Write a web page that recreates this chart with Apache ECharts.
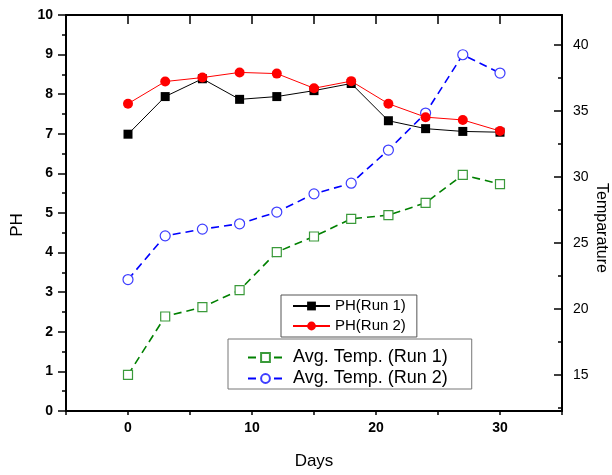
<!DOCTYPE html>
<html lang="en">
<head>
    <meta charset="utf-8">
    <title>PH and temperature</title>
    <script src="https://cdn.jsdelivr.net/npm/echarts@6/dist/echarts.min.js"></script>
</head>
<body style="margin:0; background:#fff;">
<div id="main" style="width: 612px; height: 475px;"></div>
<script type="text/javascript">
    // data
    const days = [0, 3, 6, 9, 12, 15, 18, 21, 24, 27, 30];
    const phRun1 = [6.99, 7.94, 8.39, 7.87, 7.94, 8.09, 8.27, 7.33, 7.13, 7.06, 7.04];
    const phRun2 = [7.76, 8.32, 8.42, 8.55, 8.52, 8.15, 8.33, 7.76, 7.42, 7.35, 7.07];
    const tempRun1 = [15.02, 19.44, 20.15, 21.44, 24.32, 25.5, 26.84, 27.12, 28.05, 30.17, 29.47];
    const tempRun2 = [22.24, 25.55, 26.06, 26.46, 27.35, 28.73, 29.54, 32.05, 34.85, 39.27, 37.88];
    const dayLabels = [0, 10, 20, 30];

    const font = 'Liberation Sans';

    function pairs(ys) {
        return days.map(function (d, i) { return [d, ys[i]]; });
    }

    let myChart = echarts.init(document.getElementById('main'), null, {renderer: 'canvas'});
    const axisLine = {show: true, onZero: false, lineStyle: {color: '#000', width: 2}};
    const option = {
        animation: false,
        textStyle: {fontFamily: font},
        grid: {left: 66, right: 50, top: 15, bottom: 64, containLabel: false, outerBoundsMode: 'none'},
        legend: [{
            orient: 'vertical',
            left: 281, top: 295,
            padding: [1, 11, 1, 11],
            itemGap: 0,
            itemWidth: 37, itemHeight: 11,
            borderColor: '#555', borderWidth: 1,
            textStyle: {fontFamily: font, fontSize: 15, lineHeight: 20, color: '#000'},
            data: ['PH(Run 1)', 'PH(Run 2)']
        }, {
            orient: 'vertical',
            left: 228, top: 339,
            padding: [8, 24, 0, 19],
            itemGap: 0,
            itemWidth: 35, itemHeight: 11,
            borderColor: '#777', borderWidth: 1,
            formatter: function (n) { return ' ' + n; },
            textStyle: {fontFamily: font, fontSize: 18, lineHeight: 21, color: '#000'},
            data: ['Avg. Temp. (Run 1)', 'Avg. Temp. (Run 2)']
        }],
        xAxis: [{
            type: 'value', min: -5, max: 35, interval: 5,
            axisLine: axisLine,
            axisTick: {show: true, length: 4, lineStyle: {width: 1.5, color: '#000'}},
            axisLabel: {
                margin: 10, fontSize: 14, fontWeight: 'bold', color: '#000', fontFamily: font,
                formatter: function (v) { return dayLabels.indexOf(v) >= 0 ? String(v) : ''; }
            },
            splitLine: {show: false},
            name: 'Days', nameLocation: 'middle', nameGap: 42, nameMoveOverlap: false,
            nameTextStyle: {fontSize: 17, color: '#000', fontFamily: font}
        }, {
            type: 'value', position: 'top', min: -5, max: 35, interval: 5,
            axisLine: axisLine,
            axisTick: {show: true, inside: true, length: 9, lineStyle: {width: 1.5, color: '#000'}},
            axisLabel: {show: false},
            splitLine: {show: false}
        }],
        yAxis: [{
            type: 'value', min: 0, max: 10, interval: 1,
            axisLine: axisLine,
            axisTick: {show: true, length: 8, lineStyle: {width: 1.5, color: '#000'}},
            minorTick: {show: true, splitNumber: 2, length: 4, lineStyle: {width: 1.5, color: '#000'}},
            axisLabel: {margin: 13, fontSize: 14, fontWeight: 'bold', color: '#000', fontFamily: font},
            splitLine: {show: false},
            name: 'PH', nameLocation: 'middle', nameGap: 40, nameMoveOverlap: false,
            nameTextStyle: {fontSize: 17, color: '#000', fontFamily: font, padding: [0, 24, 0, 0]}
        }, {
            type: 'value', position: 'right', min: 12.28, max: 42.28, splitNumber: 6,
            axisLine: axisLine,
            axisTick: {show: true, inside: true, length: 8, lineStyle: {width: 1.5, color: '#000'}},
            minorTick: {show: true, splitNumber: 2, length: 4, lineStyle: {width: 1.5, color: '#000'}},
            axisLabel: {margin: 11, fontSize: 14, color: '#000', fontFamily: font, showMinLabel: false, showMaxLabel: false},
            splitLine: {show: false},
            name: 'Temparature', nameLocation: 'middle', nameGap: 31, nameRotate: -90, nameMoveOverlap: false,
            nameTextStyle: {fontSize: 16, color: '#000', fontFamily: font, padding: [0, 0, 0, 30]}
        }],
        series: [{
            name: 'Avg. Temp. (Run 1)', type: 'line', yAxisIndex: 1,
            data: pairs(tempRun1),
            symbol: 'rect', symbolSize: 9,
            itemStyle: {color: '#fff', borderColor: '#3a9a3a', borderWidth: 1.2},
            lineStyle: {color: '#008000', width: 1.6, type: [8, 5]}
        }, {
            name: 'Avg. Temp. (Run 2)', type: 'line', yAxisIndex: 1,
            data: pairs(tempRun2),
            symbol: 'circle', symbolSize: 10,
            itemStyle: {color: '#fff', borderColor: '#3d3dff', borderWidth: 1.2},
            lineStyle: {color: '#0000ff', width: 1.6, type: [8, 5]}
        }, {
            name: 'PH(Run 1)', type: 'line', yAxisIndex: 0,
            data: pairs(phRun1),
            symbol: 'rect', symbolSize: 9,
            itemStyle: {color: '#000'},
            lineStyle: {color: '#000', width: 1}
        }, {
            name: 'PH(Run 2)', type: 'line', yAxisIndex: 0,
            data: pairs(phRun2),
            symbol: 'circle', symbolSize: 10,
            itemStyle: {color: '#ff0000'},
            lineStyle: {color: '#ff0000', width: 1}
        }]
    };
    myChart.setOption(option);
</script>
</body>
</html>
